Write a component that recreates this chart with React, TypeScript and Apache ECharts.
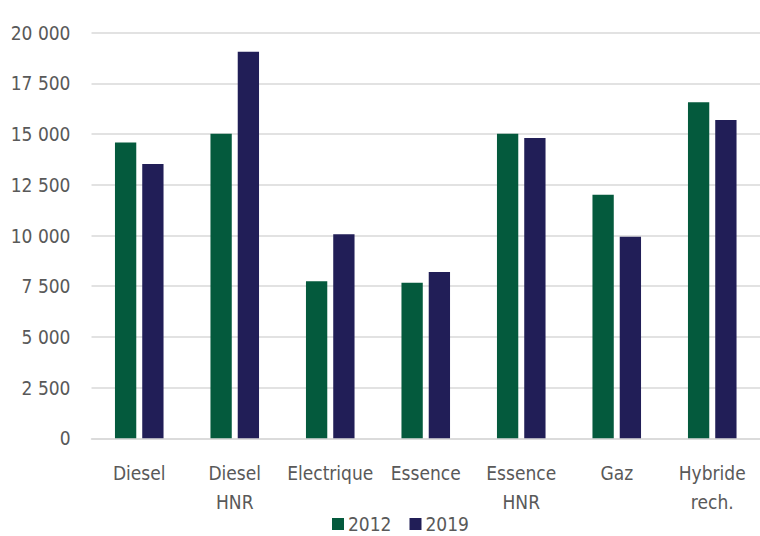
import React, { useEffect, useRef } from "react";
import * as echarts from "echarts";

const categories = ["Diesel", "Diesel\nHNR", "Electrique", "Essence", "Essence\nHNR", "Gaz", "Hybride\nrech."];
const seriesNames = ["2012", "2019"];
const values2012 = [14580, 15020, 7740, 7670, 15020, 12010, 16570];
const values2019 = [13530, 19060, 10060, 8200, 14810, 9940, 15700];
const yTicks = [0, 2500, 5000, 7500, 10000, 12500, 15000, 17500, 20000];

const FONT = '"Liberation Sans Narrow", "DejaVu Sans Condensed", "Liberation Sans", sans-serif';
const TEXT = "#595959";

function fmt(v: number): string {
  const s = String(Math.round(v));
  return s.replace(/\B(?=(\d{3})+(?!\d))/g, " ");
}

export default function App() {
  const ref = useRef<HTMLDivElement>(null);
  useEffect(() => {
    if (!ref.current) return;
    const chart = echarts.init(ref.current, null, { renderer: "svg" });
    chart.setOption({
      animation: false,
      backgroundColor: "#ffffff",
      textStyle: { fontFamily: FONT },
      grid: { left: 91.5, width: 676, top: 32.7, bottom: 97.7, containLabel: false },
      legend: {
        data: seriesNames,
        left: 332,
        top: 514,
        padding: 0,
        itemWidth: 12,
        itemHeight: 12,
        itemGap: 18,
        icon: "rect",
        textStyle: { color: TEXT, fontSize: 19, lineHeight: 20, fontFamily: FONT, padding: [0, 0, 0, -1] },
      },
      xAxis: {
        type: "category",
        data: categories,
        axisLine: { show: true, lineStyle: { color: "#d9d9d9", width: 1.5 } },
        axisTick: { show: false },
        axisLabel: {
          color: TEXT,
          fontSize: 19,
          fontFamily: FONT,
          margin: 20,
          lineHeight: 29,
          interval: 0,
        },
      },
      yAxis: {
        type: "value",
        min: yTicks[0],
        max: yTicks[yTicks.length - 1],
        interval: 2500,
        axisLine: { show: false },
        axisTick: { show: false },
        splitLine: { lineStyle: { color: "#d9d9d9", width: 1.5 } },
        axisLabel: {
          color: TEXT,
          fontSize: 19,
          fontFamily: FONT,
          margin: 21,
          formatter: (v: number) => fmt(v),
        },
      },
      series: [
        {
          name: seriesNames[0],
          type: "bar",
          data: values2012,
          barWidth: 21.3,
          barGap: "28%",
          itemStyle: { color: "#045a3d" },
        },
        {
          name: seriesNames[1],
          type: "bar",
          data: values2019,
          barWidth: 21.3,
          itemStyle: { color: "#211e57" },
        },
      ],
    });
    return () => chart.dispose();
  }, []);
  return <div ref={ref} style={{ width: 760, height: 536, position: "absolute", left: 0, top: 0 }} />;
}
